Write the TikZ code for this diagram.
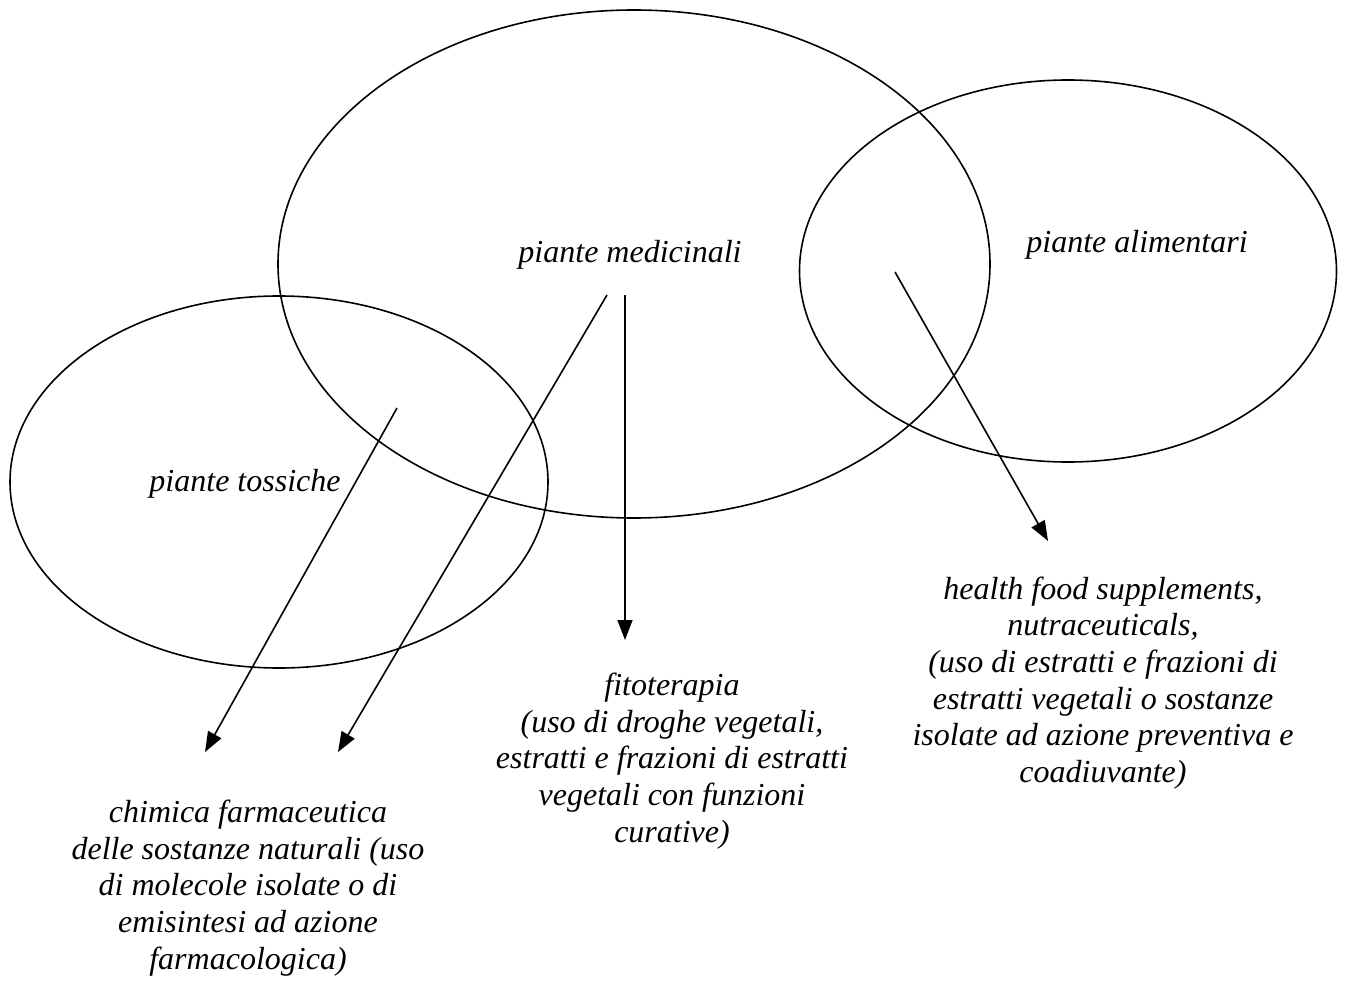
\documentclass[tikz,border=0pt]{standalone}
\usepackage{fontspec}
\setmainfont{Liberation Serif}
\usetikzlibrary{arrows.meta,shapes.geometric}
\tikzset{
  circ/.style={draw, ellipse, line width=1.6pt, inner sep=0pt},
  lbl/.style={font=\fontsize{32}{36.7}\selectfont\itshape, align=center, inner sep=0pt},
  arr/.style={line width=1.6pt, -{Triangle[length=20pt,width=15pt]}}
}
\begin{document}
\begin{tikzpicture}[x=1pt,y=-1pt]
\useasboundingbox (0,0) rectangle (1347,981);
\node[circ, minimum width=712pt, minimum height=508pt] (med) at (634,264) {};
\node[circ, minimum width=537pt, minimum height=382pt] (ali) at (1068,271) {};
\node[circ, minimum width=538pt, minimum height=372pt] (tox) at (279,482) {};

\node[lbl] (lmed) at (630,255) {piante medicinali};
\node[lbl] (lali) at (1137,245) {piante alimentari};
\node[lbl] (ltox) at (245,484) {piante tossiche};

\node[lbl] (chim) at (248,888) {chimica farmaceutica\\delle sostanze naturali (uso\\di molecole isolate o di\\emisintesi ad azione\\farmacologica)};
\node[lbl] (fito) at (672,761) {fitoterapia\\(uso di droghe vegetali,\\estratti e frazioni di estratti\\vegetali con funzioni\\curative)};
\node[lbl] (heal) at (1103,683) {health food supplements,\\nutraceuticals,\\(uso di estratti e frazioni di\\estratti vegetali o sostanze\\isolate ad azione preventiva e\\coadiuvante)};

\coordinate (s1) at (397,408);
\coordinate (e1) at (205,752);
\coordinate (s2) at (607,295);
\coordinate (e2) at (338,752);
\coordinate (s3) at (625,295);
\coordinate (e3) at (625,640);
\coordinate (s4) at (895,272);
\coordinate (e4) at (1048,541);

\draw[arr] (s1) -- (e1);
\draw[arr] (s2) -- (e2);
\draw[arr] (s3) -- (e3);
\draw[arr] (s4) -- (e4);
\end{tikzpicture}
\end{document}
